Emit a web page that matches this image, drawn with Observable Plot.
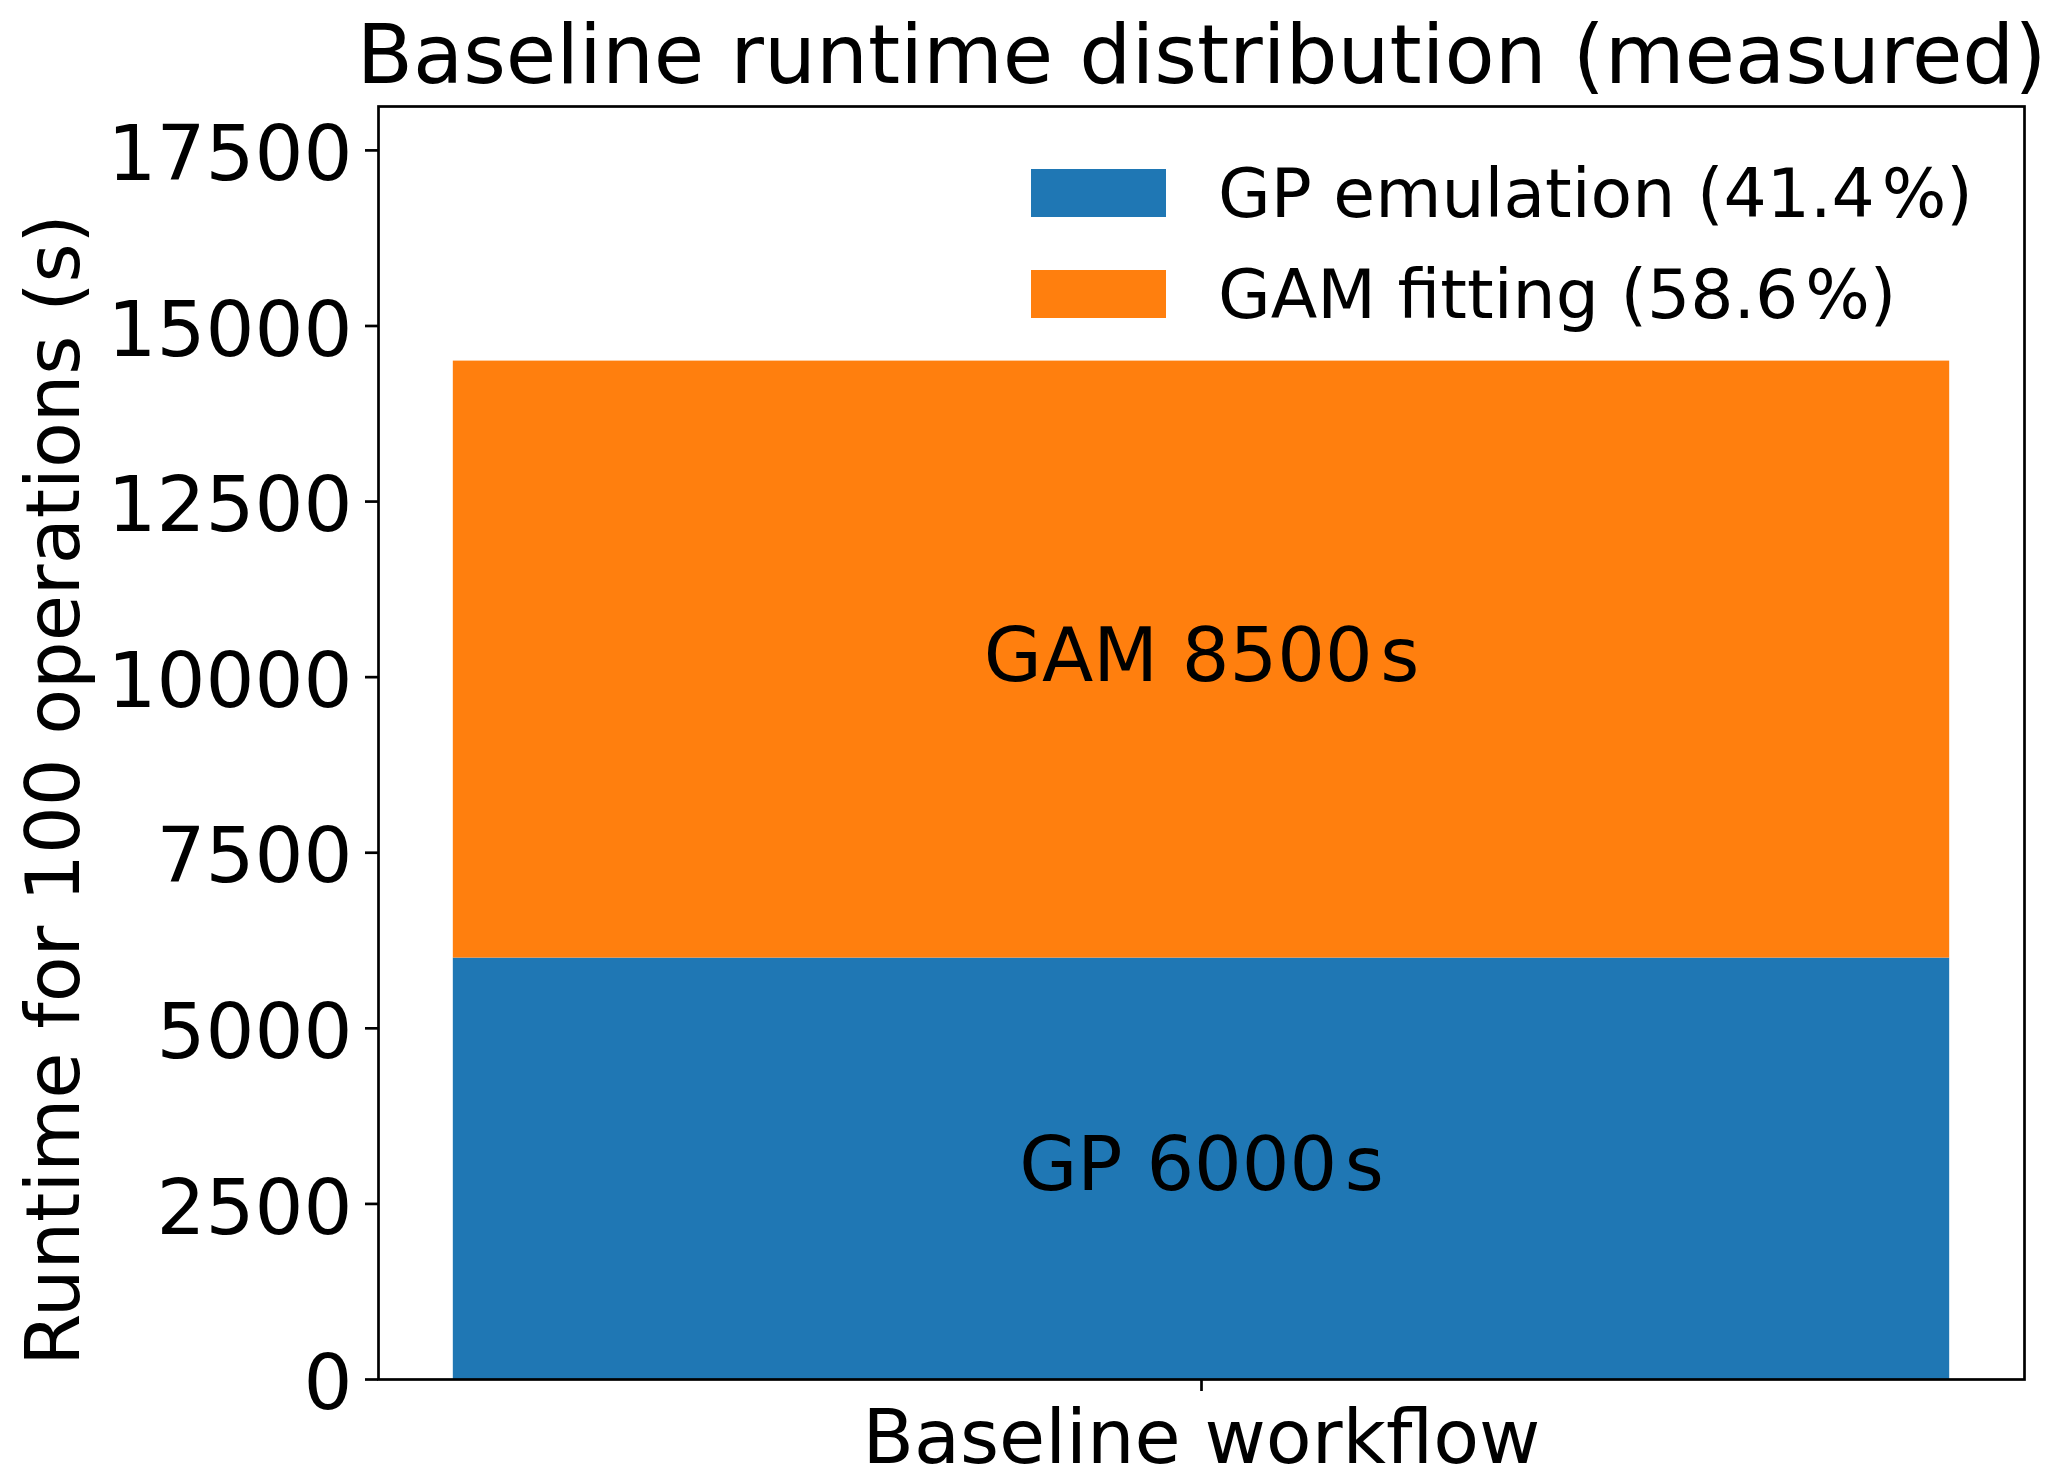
<!DOCTYPE html>
<html><head><meta charset="utf-8">
<script src="https://cdn.jsdelivr.net/npm/d3@7"></script>
<script src="https://cdn.jsdelivr.net/npm/@observablehq/plot@0.6"></script>
<style>html,body{margin:0;padding:0;background:#fff;} #chart{position:relative;width:2067px;height:1484px;}</style>
</head><body><div id="chart"></div>
<script>
const categories = ["Baseline workflow"];
const series = ["GP emulation", "GAM fitting"];
const runtimes = [6000, 8500];
const barLabels = ["GP 6000\u200As", "GAM 8500\u200As"];
const legendLabels = ["GP emulation (41.4\u200A%)", "GAM fitting (58.6\u200A%)"];
const seriesColors = ["#1f77b4", "#ff7f0e"];
const yTicks = [0, 2500, 5000, 7500, 10000, 12500, 15000, 17500];
const yMax = 18125;
const title = "Baseline runtime distribution (measured)";
const yLabel = "Runtime for 100 operations (s)";

const rows = series.map((s, i) => ({category: categories[0], series: s, runtime: runtimes[i], label: barLabels[i]}));

const W = 2067, H = 1484;
const mL = 378, mR = 43, mT = 106, mB = 105;
const font = "'DejaVu Sans', sans-serif";

const plot = Plot.plot({
  width: W, height: H, marginLeft: mL, marginRight: mR, marginTop: mT, marginBottom: mB,
  style: {fontFamily: font, background: "white", color: "black", overflow: "visible"},
  x: {type: "band", domain: categories, paddingInner: 0, paddingOuter: 0.05, round: false, label: null},
  y: {domain: [0, yMax], label: null},
  color: {domain: series, range: seriesColors},
  marks: [
    Plot.barY(rows, Plot.stackY({x: "category", y: "runtime", fill: "series"})),
    Plot.text(rows, Plot.stackY({x: "category", y: "runtime", z: "series", text: "label", fontSize: 75, dy: -3, fill: "black"})),
    Plot.axisY({ticks: yTicks, tickSize: 13, strokeWidth: 2.7, tickFormat: () => "", label: null}),
    Plot.axisY({ticks: yTicks, tickSize: 0, tickPadding: 26, fontSize: 77, dy: 5, tickFormat: d => String(d), label: null}),
    Plot.axisX({tickSize: 12, tickPadding: 18, fontSize: 75, strokeWidth: 2.7, label: null}),
    Plot.text([title], {frameAnchor: "top", lineAnchor: "middle", dy: -50, fontSize: 82}),
    Plot.text([yLabel], {frameAnchor: "left", lineAnchor: "middle", rotate: -90, dx: -324, dy: 47, fontSize: 75, textAnchor: "middle"}),
    Plot.frame({stroke: "black", strokeWidth: 2.7})
  ]
});

const svg = d3.select(plot);
const lg = svg.append("g").attr("font-family", font).attr("font-size", 68).attr("fill", "black").attr("text-anchor", "start");
series.forEach((s, i) => {
  lg.append("rect").attr("x", 1031).attr("y", 169 + 101 * i).attr("width", 135).attr("height", 48).attr("fill", seriesColors[i]);
  lg.append("text").attr("x", 1218).attr("y", 217 + 101 * i).attr("text-anchor", "start").text(legendLabels[i]);
});

document.getElementById("chart").appendChild(plot);
</script>
</body></html>
